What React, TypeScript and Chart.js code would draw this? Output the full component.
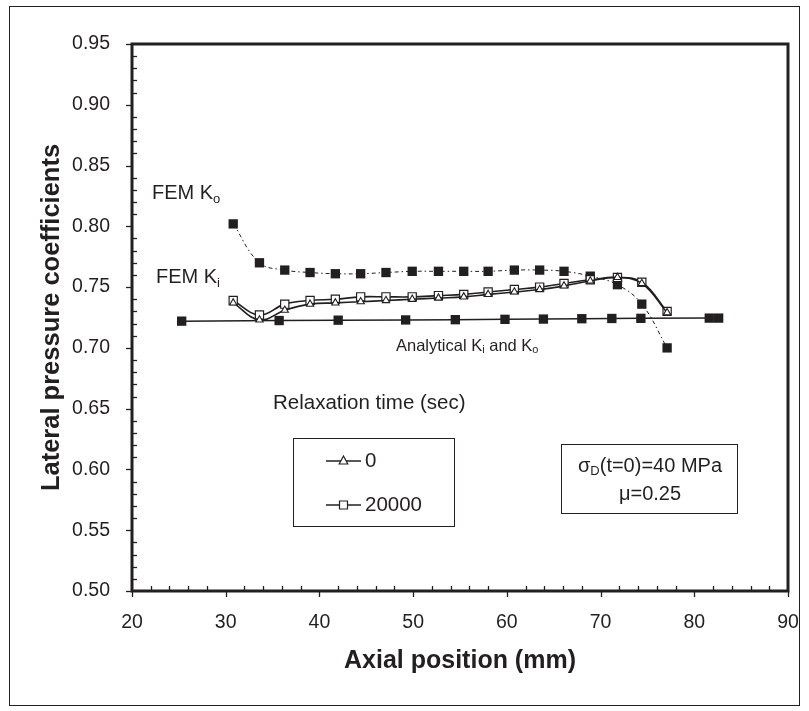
import React, { useEffect, useRef } from "react";
import { Chart, registerables } from "chart.js";

Chart.register(...registerables);

// ---------- data ----------
const positionsMm = [30.8, 33.6, 36.3, 39.0, 41.7, 44.4, 47.1, 49.9, 52.7, 55.4, 58.0, 60.8, 63.5, 66.1, 68.9, 71.8, 74.4, 77.1];
const femKoValues = [0.802, 0.770, 0.764, 0.762, 0.761, 0.761, 0.762, 0.763, 0.763, 0.763, 0.763, 0.764, 0.764, 0.763, 0.759, 0.752, 0.736, 0.700];
const femKiTime0 = [0.737, 0.723, 0.731, 0.736, 0.737, 0.738, 0.739, 0.740, 0.741, 0.742, 0.744, 0.746, 0.748, 0.751, 0.755, 0.758, 0.753, 0.729];
const femKiTime20000 = [0.739, 0.727, 0.736, 0.739, 0.740, 0.742, 0.742, 0.742, 0.743, 0.744, 0.746, 0.748, 0.750, 0.753, 0.756, 0.758, 0.754, 0.730];
const analyticalPositionsMm = [25.3, 35.7, 42.0, 49.2, 54.5, 59.8, 63.9, 68.0, 71.2, 74.3, 81.6, 82.6];
const analyticalK = [0.722, 0.7225, 0.7228, 0.723, 0.7232, 0.7235, 0.7237, 0.724, 0.7242, 0.7243, 0.7245, 0.7245];

const xTickValues = [20, 30, 40, 50, 60, 70, 80, 90];
const yTickValues = [0.5, 0.55, 0.6, 0.65, 0.7, 0.75, 0.8, 0.85, 0.9, 0.95];
const legendLabels = ["0", "20000"];

const xTitle = "Axial position (mm)";
const yTitle = "Lateral pressure coefficients";

// ---------- style ----------
const INK = "#231f20";
const FONT = "'Liberation Sans', Arial, Helvetica, sans-serif";

type Part = { text: string; size: number; bold?: boolean; dy?: number };

function fontOf(p: Part) {
  return `${p.bold ? "bold " : ""}${p.size}px ${FONT}`;
}

function drawParts(ctx: CanvasRenderingContext2D, parts: Part[], x: number, y: number, align: "left" | "center") {
  const widths = parts.map((p) => {
    ctx.font = fontOf(p);
    return ctx.measureText(p.text).width;
  });
  const total = widths.reduce((a, b) => a + b, 0);
  let cx = align === "center" ? x - total / 2 : x;
  ctx.textAlign = "left";
  ctx.textBaseline = "middle";
  parts.forEach((p, i) => {
    ctx.font = fontOf(p);
    ctx.fillText(p.text, cx, y + (p.dy || 0));
    cx += widths[i];
  });
}

function line(ctx: CanvasRenderingContext2D, x1: number, y1: number, x2: number, y2: number) {
  ctx.beginPath();
  ctx.moveTo(x1, y1);
  ctx.lineTo(x2, y2);
  ctx.stroke();
}

const decorPlugin = {
  id: "decor",
  beforeDraw(chart: any) {
    const ctx = chart.ctx as CanvasRenderingContext2D;
    ctx.save();
    ctx.fillStyle = "#ffffff";
    ctx.fillRect(0, 0, chart.width, chart.height);
    ctx.restore();
  },
  afterDraw(chart: any) {
    const ctx = chart.ctx as CanvasRenderingContext2D;
    const { left, right, top, bottom } = chart.chartArea;
    const xs = chart.scales.x;
    const ys = chart.scales.y;
    ctx.save();
    ctx.strokeStyle = INK;
    ctx.fillStyle = INK;

    // outer figure frame
    ctx.lineWidth = 1;
    ctx.strokeRect(9.5, 6.5, 790, 699);

    // ticks
    ctx.lineWidth = 1.3;
    for (let v = 20; v <= 90; v += 2) {
      const px = Math.round(xs.getPixelForValue(v)) + 0.5;
      if (v % 10 === 0) line(ctx, px, bottom, px, bottom + 6);
      else line(ctx, px, bottom, px, bottom - 5);
    }
    for (let i = 0; i <= 45; i++) {
      const v = 0.5 + i * 0.01;
      const py = Math.round(ys.getPixelForValue(v)) + 0.5;
      if (i % 5 === 0) line(ctx, left - 6, py, left, py);
      else line(ctx, left, py, left + 5, py);
    }

    // plot frame
    ctx.lineWidth = 3;
    ctx.strokeRect(left, top, right - left, bottom - top);

    // axis titles
    drawParts(ctx, [{ text: xTitle, size: 25, bold: true }], (left + right) / 2, 661, "center");
    ctx.save();
    ctx.translate(52, (top + bottom) / 2);
    ctx.rotate(-Math.PI / 2);
    drawParts(ctx, [{ text: yTitle, size: 25.5, bold: true }], 0, 0, "center");
    ctx.restore();

    // curve labels
    drawParts(ctx, [{ text: "FEM K", size: 20 }, { text: "o", size: 13, dy: 6 }], 152, 193, "left");
    drawParts(ctx, [{ text: "FEM K", size: 20 }, { text: "i", size: 13, dy: 6 }], 156, 277, "left");
    drawParts(
      ctx,
      [
        { text: "Analytical K", size: 16.5 },
        { text: "i", size: 11, dy: 4 },
        { text: " and K", size: 16.5 },
        { text: "o", size: 11, dy: 4 },
      ],
      396,
      346,
      "left"
    );
    drawParts(ctx, [{ text: "Relaxation time (sec)", size: 20.5 }], 273, 403, "left");

    // legend box
    ctx.lineWidth = 1;
    ctx.strokeRect(293.5, 438.5, 161, 88);
    const rows = [
      { y: 461, style: "triangle" },
      { y: 505, style: "rect" },
    ];
    rows.forEach((r, i) => {
      ctx.lineWidth = 1.5;
      line(ctx, 326, r.y, 361, r.y);
      ctx.lineWidth = 1.2;
      ctx.fillStyle = "#ffffff";
      ctx.beginPath();
      if (r.style === "triangle") {
        ctx.moveTo(343.5, r.y - 5);
        ctx.lineTo(347.8, r.y + 3);
        ctx.lineTo(339.2, r.y + 3);
        ctx.closePath();
      } else {
        ctx.rect(339.5, r.y - 4, 8, 8);
      }
      ctx.fill();
      ctx.stroke();
      ctx.fillStyle = INK;
      drawParts(ctx, [{ text: legendLabels[i], size: 20.5 }], 365, r.y, "left");
    });

    // condition box
    ctx.lineWidth = 1;
    ctx.strokeRect(561.5, 444.5, 176, 69);
    drawParts(
      ctx,
      [
        { text: "\u03c3", size: 20 },
        { text: "D", size: 13, dy: 5 },
        { text: "(t=0)=40 MPa", size: 20 },
      ],
      650,
      466,
      "center"
    );
    drawParts(ctx, [{ text: "\u03bc=0.25", size: 20 }], 650, 494, "center");

    ctx.restore();
  },
};

export default function App() {
  const canvasRef = useRef<HTMLCanvasElement | null>(null);

  useEffect(() => {
    const canvas = canvasRef.current;
    if (!canvas) return;
    const toXY = (xs: number[], ys: number[]) => xs.map((x, i) => ({ x, y: ys[i] }));

    const chart = new Chart(canvas, {
      type: "line",
      data: {
        datasets: [
          {
            label: "Analytical Ki and Ko",
            data: toXY(analyticalPositionsMm, analyticalK),
            borderColor: INK,
            borderWidth: 1.5,
            backgroundColor: INK,
            pointStyle: "rect",
            pointRadius: 6.6,
            pointBorderWidth: 0,
            tension: 0,
            order: 4,
          },
          {
            label: "FEM Ko",
            data: toXY(positionsMm, femKoValues),
            borderColor: INK,
            borderWidth: 1,
            borderDash: [4, 3, 1.5, 3],
            backgroundColor: INK,
            pointStyle: "rect",
            pointRadius: 6.6,
            pointBorderWidth: 0,
            tension: 0.4,
            order: 3,
          },
          {
            label: "20000",
            data: toXY(positionsMm, femKiTime20000),
            borderColor: INK,
            borderWidth: 1.6,
            backgroundColor: "#ffffff",
            pointBackgroundColor: "#ffffff",
            pointBorderColor: INK,
            pointStyle: "rect",
            pointRadius: 5.8,
            pointBorderWidth: 1.2,
            tension: 0.4,
            order: 2,
          },
          {
            label: "0",
            data: toXY(positionsMm, femKiTime0),
            borderColor: INK,
            borderWidth: 1.6,
            backgroundColor: "#ffffff",
            pointBackgroundColor: "#ffffff",
            pointBorderColor: INK,
            pointStyle: "triangle",
            pointRadius: 4.2,
            pointBorderWidth: 1.1,
            tension: 0.4,
            order: 1,
          },
        ],
      },
      options: {
        responsive: false,
        animation: false,
        devicePixelRatio: 1,
        layout: { padding: { left: 0, right: 21, top: 44, bottom: 0 } },
        plugins: {
          legend: { display: false },
          tooltip: { enabled: false },
          title: { display: false },
        },
        scales: {
          x: {
            type: "linear",
            min: 20,
            max: 90,
            grid: { display: false },
            border: { display: false },
            ticks: {
              color: INK,
              padding: 12,
              maxRotation: 0,
              font: { family: FONT, size: 19.5 },
              callback: (v: any) => String(v),
            },
            afterBuildTicks: (s: any) => {
              s.ticks = xTickValues.map((value) => ({ value }));
            },
            afterFit: (s: any) => {
              s.height = 120;
              s.paddingLeft = 0;
              s.paddingRight = 0;
            },
          },
          y: {
            type: "linear",
            min: 0.5,
            max: 0.95,
            grid: { display: false },
            border: { display: false },
            ticks: {
              color: INK,
              padding: 14,
              font: { family: FONT, size: 19.5 },
              callback: (v: any) => Number(v).toFixed(2),
            },
            afterBuildTicks: (s: any) => {
              s.ticks = yTickValues.map((value) => ({ value }));
            },
            afterFit: (s: any) => {
              s.width = 132;
              s.paddingTop = 0;
              s.paddingBottom = 0;
            },
          },
        },
      },
      plugins: [decorPlugin],
    });

    return () => chart.destroy();
  }, []);

  return (
    <canvas
      ref={canvasRef}
      width={809}
      height={711}
      style={{ position: "absolute", left: 0, top: 0, width: 809, height: 711 }}
    />
  );
}
